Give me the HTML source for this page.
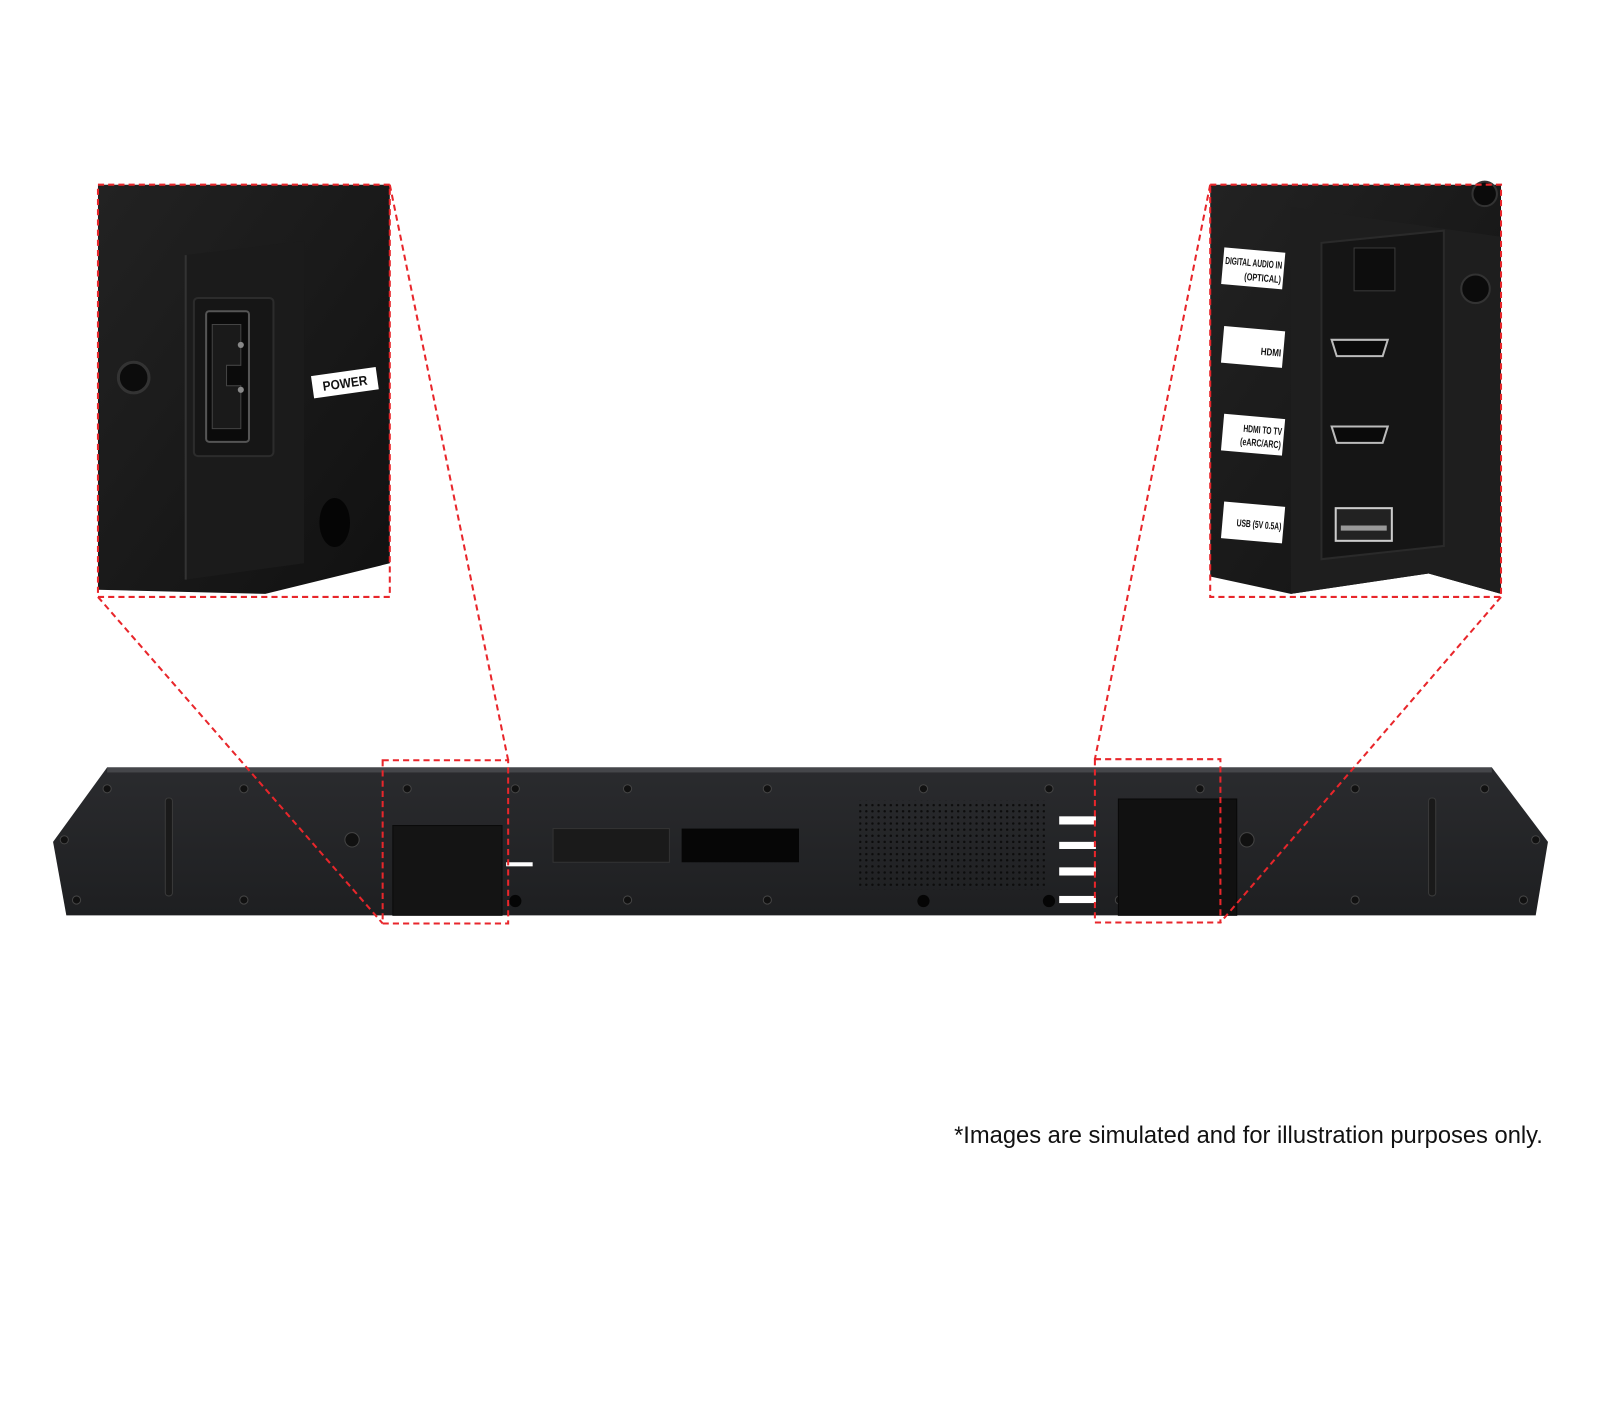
<!DOCTYPE html>
<html><head><meta charset="utf-8"><style>
html,body{margin:0;padding:0;background:#fff;}
svg{display:block;}
</style></head><body>
<svg width="1600" height="1424" viewBox="0 0 1568 1395.5" preserveAspectRatio="none" xmlns="http://www.w3.org/2000/svg">
<defs>
<linearGradient id="bar" x1="0" y1="0" x2="0" y2="1">
<stop offset="0" stop-color="#2a2b2e"/><stop offset="1" stop-color="#1e1f21"/></linearGradient>
<linearGradient id="ins" x1="0" y1="0" x2="1" y2="1">
<stop offset="0" stop-color="#222"/><stop offset="1" stop-color="#111"/></linearGradient>
<pattern id="grill" width="6" height="6" patternUnits="userSpaceOnUse"><circle cx="3" cy="3" r="1.2" fill="#0c0c0c"/></pattern>
</defs>

<!-- soundbar -->
<polygon points="105,752 1462,752 1517,825 1505,897 65,897 52,825" fill="url(#bar)"/>
<rect x="105" y="752" width="1357" height="5" fill="#45464a"/>
<g fill="#111" stroke="#444" stroke-width="1">
<circle cx="105" cy="773" r="4"/><circle cx="239" cy="773" r="4"/><circle cx="399" cy="773" r="4"/><circle cx="505" cy="773" r="4"/><circle cx="615" cy="773" r="4"/><circle cx="752" cy="773" r="4"/><circle cx="905" cy="773" r="4"/><circle cx="1028" cy="773" r="4"/><circle cx="1176" cy="773" r="4"/><circle cx="1328" cy="773" r="4"/><circle cx="1455" cy="773" r="4"/>
<circle cx="63" cy="823" r="4"/><circle cx="1505" cy="823" r="4"/>
<circle cx="75" cy="882" r="4"/><circle cx="239" cy="882" r="4"/><circle cx="401" cy="882" r="4"/><circle cx="615" cy="882" r="4"/><circle cx="752" cy="882" r="4"/><circle cx="1097" cy="882" r="4"/><circle cx="1176" cy="882" r="4"/><circle cx="1328" cy="882" r="4"/><circle cx="1493" cy="882" r="4"/>
<circle cx="345" cy="823" r="7"/><circle cx="1222" cy="823" r="7"/>
</g>
<circle cx="505" cy="883" r="6" fill="#050505"/><circle cx="905" cy="883" r="6" fill="#050505"/><circle cx="1028" cy="883" r="6" fill="#050505"/>
<rect x="162" y="782" width="7" height="96" rx="3" fill="#1a1a1a" stroke="#3a3a3a"/>
<rect x="1400" y="782" width="7" height="96" rx="3" fill="#1a1a1a" stroke="#3a3a3a"/>
<rect x="385" y="809" width="107" height="88" fill="#141414" stroke="#0a0a0a"/>
<rect x="542" y="812" width="114" height="33" fill="#1a1a1a" stroke="#333"/>
<rect x="668" y="812" width="115" height="33" fill="#060606"/>
<rect x="842" y="784" width="182" height="88" fill="url(#grill)"/>
<rect x="1096" y="783" width="116" height="114" fill="#111" stroke="#080808"/>
<rect x="496" y="845" width="26" height="4" fill="#fff"/>
<g fill="#fff"><rect x="1038" y="800" width="36" height="8"/><rect x="1038" y="825" width="36" height="7"/><rect x="1038" y="850" width="36" height="8"/><rect x="1038" y="878" width="36" height="7"/></g>

<!-- left inset -->
<polygon points="96,181 382,181 382,552 260,582 96,578" fill="url(#ins)"/>
<polygon points="182,250 298,236 298,552 182,568" fill="#1b1b1b"/>
<line x1="182" y1="250" x2="182" y2="568" stroke="#333" stroke-width="2"/>
<rect x="190" y="292" width="78" height="155" rx="4" fill="#161616" stroke="#2c2c2c" stroke-width="2"/>
<rect x="202" y="305" width="42" height="128" rx="3" fill="#0b0b0b" stroke="#555" stroke-width="2"/>
<path d="M208,318 h28 v40 h-14 v20 h14 v42 h-28 z" fill="#1a1a1a" stroke="#444"/>
<circle cx="236" cy="338" r="3" fill="#888"/><circle cx="236" cy="382" r="3" fill="#888"/>
<circle cx="131" cy="370" r="15" fill="#0c0c0c" stroke="#333" stroke-width="3"/>
<ellipse cx="328" cy="512" rx="15" ry="24" fill="#050505"/>
<g transform="translate(338,375) rotate(-8)"><rect x="-32" y="-11" width="64" height="22" fill="#fff"/><text x="0" y="5" text-anchor="middle" font-family="Liberation Sans, sans-serif" font-size="13" font-weight="bold" fill="#111" textLength="44" lengthAdjust="spacingAndGlyphs">POWER</text></g>

<!-- right inset -->
<polygon points="1186,181 1471,181 1471,582 1400,562 1265,582 1186,565" fill="url(#ins)"/>
<polygon points="1265,203 1471,232 1471,582 1400,562 1265,582" fill="#1e1e1e"/>
<polygon points="1295,238 1415,226 1415,535 1295,548" fill="#151515" stroke="#2a2a2a" stroke-width="2"/>
<rect x="1327" y="243" width="40" height="42" fill="#0d0d0d" stroke="#3a3a3a"/>
<path d="M1305,333 h55 l-5,16 h-45 z" fill="#0a0a0a" stroke="#bbb" stroke-width="2"/>
<path d="M1305,418 h55 l-5,16 h-45 z" fill="#0a0a0a" stroke="#bbb" stroke-width="2"/>
<rect x="1309" y="498" width="55" height="32" fill="#222" stroke="#ccc" stroke-width="2"/>
<rect x="1314" y="515" width="45" height="5" fill="#999"/>
<circle cx="1455" cy="190" r="12" fill="#0b0b0b" stroke="#333" stroke-width="2"/>
<circle cx="1446" cy="283" r="14" fill="#0b0b0b" stroke="#333" stroke-width="2"/>
<g font-family="Liberation Sans, sans-serif" font-weight="bold" fill="#111" text-anchor="end" lengthAdjust="spacingAndGlyphs">
<g transform="rotate(5 1228 265)"><rect x="1198" y="245" width="60" height="36" fill="#fff"/><text x="1256" y="261" font-size="10" textLength="56" lengthAdjust="spacingAndGlyphs">DIGITAL AUDIO IN</text><text x="1256" y="275" font-size="10" textLength="36" lengthAdjust="spacingAndGlyphs">(OPTICAL)</text></g>
<g transform="rotate(5 1228 340)"><rect x="1198" y="322" width="60" height="36" fill="#fff"/><text x="1256" y="347" font-size="10" textLength="20" lengthAdjust="spacingAndGlyphs">HDMI</text></g>
<g transform="rotate(5 1228 426)"><rect x="1198" y="408" width="60" height="36" fill="#fff"/><text x="1256" y="424" font-size="10" textLength="38" lengthAdjust="spacingAndGlyphs">HDMI TO TV</text><text x="1256" y="437" font-size="10" textLength="40" lengthAdjust="spacingAndGlyphs">(eARC/ARC)</text></g>
<g transform="rotate(5 1228 512)"><rect x="1198" y="494" width="60" height="36" fill="#fff"/><text x="1256" y="517" font-size="10" textLength="44" lengthAdjust="spacingAndGlyphs">USB (5V 0.5A)</text></g>
</g>

<!-- red dashed guides -->
<g fill="none" stroke="#e8262b" stroke-width="2" stroke-dasharray="6,4">
<rect x="96" y="181" width="286" height="404"/>
<rect x="1186" y="181" width="285" height="404"/>
<rect x="375" y="745" width="123" height="160"/>
<rect x="1073" y="744" width="123" height="160"/>
<line x1="382" y1="181" x2="498" y2="745"/>
<line x1="96" y1="585" x2="375" y2="905"/>
<line x1="1186" y1="181" x2="1073" y2="744"/>
<line x1="1471" y1="585" x2="1196" y2="904"/>
</g>

<text x="935" y="1120" font-family="Liberation Sans, sans-serif" font-size="24" fill="#111" textLength="577" lengthAdjust="spacingAndGlyphs">*Images are simulated and for illustration purposes only.</text>
</svg>
</body></html>
